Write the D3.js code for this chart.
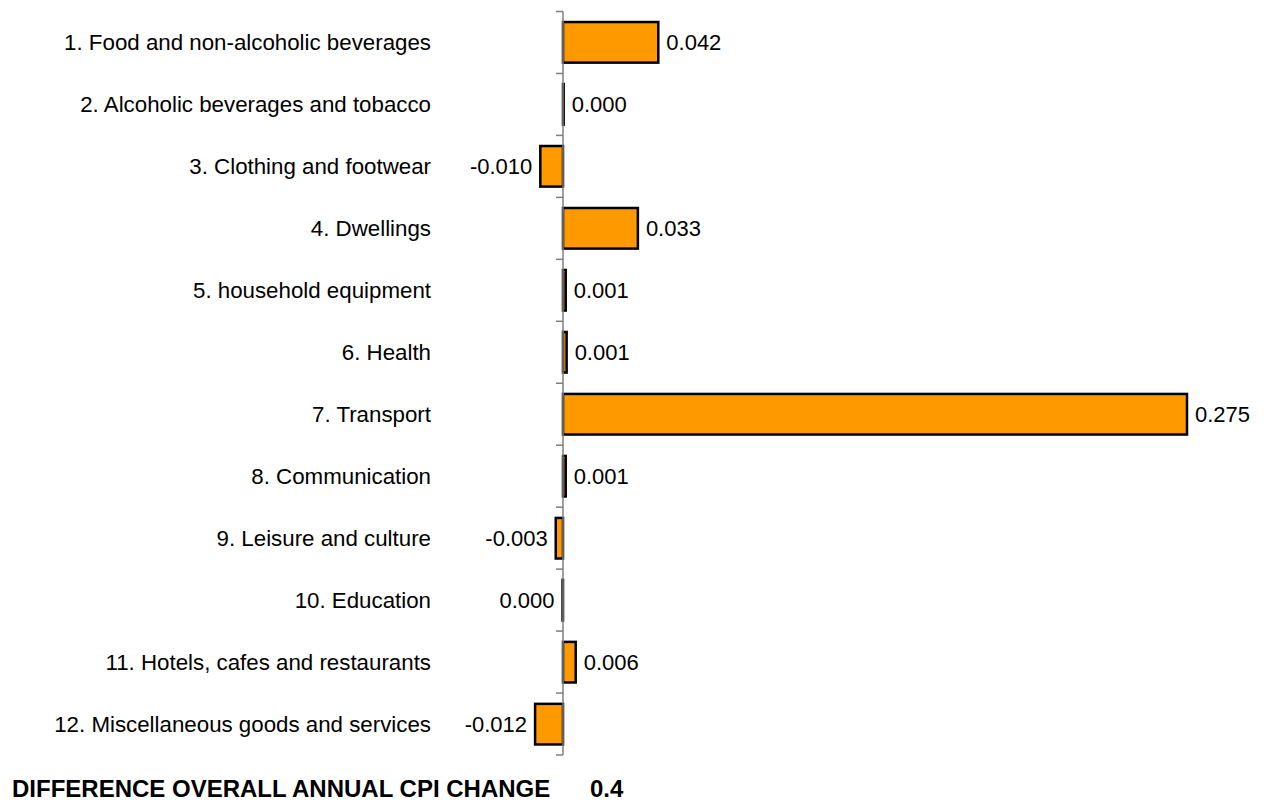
<!DOCTYPE html>
<html>
<head>
<meta charset="utf-8">
<script src="https://cdn.jsdelivr.net/npm/d3@7"></script>
<style>
html,body{margin:0;padding:0;background:#fff;}
svg{display:block;font-family:"Liberation Sans",Arial,sans-serif;}
</style>
</head>
<body>
<svg id="chart" width="1264" height="803"></svg>
<script>
const categories = [
  "1. Food and non-alcoholic beverages",
  "2. Alcoholic beverages and tobacco",
  "3. Clothing and footwear",
  "4. Dwellings",
  "5. household equipment",
  "6. Health",
  "7. Transport",
  "8. Communication",
  "9. Leisure and culture",
  "10. Education",
  "11. Hotels, cafes and restaurants",
  "12. Miscellaneous goods and services"
];
const values = [0.042, 0.0003, -0.010, 0.033, 0.0012, 0.0016, 0.275, 0.0012, -0.0032, -0.0002, 0.0056, -0.0123];
const valueLabels = ["0.042","0.000","-0.010","0.033","0.001","0.001","0.275","0.001","-0.003","0.000","0.006","-0.012"];
const totalLabel = "DIFFERENCE OVERALL ANNUAL CPI CHANGE";
const totalValue = "0.4";

const svg = d3.select("#chart");

const x = d3.scaleLinear().domain([0, 0.275]).range([563, 1187]);
const y = d3.scaleBand().domain(categories).range([11.5, 755]).paddingInner(0.345).paddingOuter(0.17);

// bars
svg.append("g").selectAll("rect").data(values).join("rect")
  .attr("x", d => Math.min(x(0), x(d)))
  .attr("y", (d,i) => y(categories[i]))
  .attr("width", d => Math.abs(x(d) - x(0)))
  .attr("height", y.bandwidth())
  .attr("fill", "#FF9900")
  .attr("stroke", "#000")
  .attr("stroke-width", 2.5);

// axis (category boundaries as ticks)
const axisG = svg.append("g");
const step = (755 - 11.5) / categories.length;
axisG.append("line")
  .attr("x1", x(0)).attr("x2", x(0))
  .attr("y1", 11.5).attr("y2", 755)
  .attr("stroke", "#7f7f7f").attr("stroke-width", 1.5);
axisG.selectAll("line.tick").data(d3.range(categories.length + 1)).join("line")
  .attr("class", "tick")
  .attr("x1", x(0) - 7).attr("x2", x(0))
  .attr("y1", i => 11.5 + i * step).attr("y2", i => 11.5 + i * step)
  .attr("stroke", "#7f7f7f").attr("stroke-width", 1.5);

// category labels
svg.append("g").selectAll("text").data(categories).join("text")
  .attr("x", 431)
  .attr("y", d => y(d) + y.bandwidth() / 2)
  .attr("dy", "0.34em")
  .attr("text-anchor", "end")
  .attr("font-size", 22.3)
  .attr("fill", "#000")
  .text(d => d);

// value labels
svg.append("g").selectAll("text").data(values).join("text")
  .attr("x", d => d >= 0 ? x(d) + 8 : x(d) - 8)
  .attr("y", (d,i) => y(categories[i]) + y.bandwidth() / 2)
  .attr("dy", "0.34em")
  .attr("text-anchor", d => d >= 0 ? "start" : "end")
  .attr("font-size", 22)
  .attr("fill", "#000")
  .text((d,i) => valueLabels[i]);

// total line
svg.append("text")
  .attr("x", 12).attr("y", 797)
  .attr("font-size", 24).attr("font-weight", "bold")
  .text(totalLabel);
svg.append("text")
  .attr("x", 590).attr("y", 797)
  .attr("font-size", 24).attr("font-weight", "bold")
  .text(totalValue);
</script>
</body>
</html>
